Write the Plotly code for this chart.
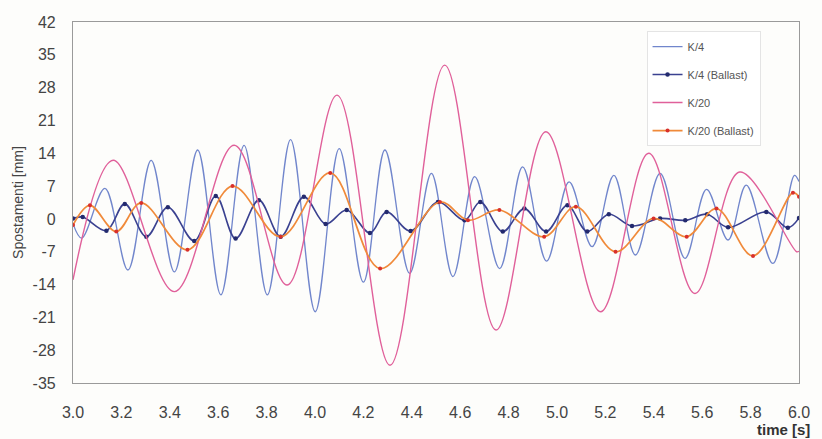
import plotly.graph_objects as go

# ---- data (time in s, displacement in mm) ----
k4_t = [3.000, 3.036, 3.132, 3.227, 3.323, 3.419, 3.515, 3.611, 3.707, 3.803,
        3.899, 4.001, 4.100, 4.200, 4.289, 4.391, 4.481, 4.570, 4.660, 4.763,
        4.858, 4.957, 5.050, 5.145, 5.235, 5.324, 5.426, 5.529, 5.618, 5.707,
        5.782, 5.892, 5.981, 6.000]
k4_v = [-1.0, -4.1, 6.5, -10.9, 12.5, -11.3, 14.7, -16.2, 15.7, -16.2,
        16.9, -19.8, 15.0, -13.5, 14.7, -11.6, 9.7, -12.3, 9.0, -10.6,
        11.1, -9.0, 7.9, -5.9, 9.3, -7.7, 9.7, -8.4, 6.3, -4.5,
        7.2, -9.5, 9.3, 8.0]

k4b_t = [3.000, 3.040, 3.138, 3.214, 3.303, 3.392, 3.501, 3.590, 3.672, 3.768,
         3.858, 3.954, 4.044, 4.131, 4.227, 4.296, 4.395, 4.508, 4.618, 4.683,
         4.776, 4.865, 4.955, 5.043, 5.125, 5.214, 5.310, 5.426, 5.530, 5.620,
         5.707, 5.865, 5.954, 6.000]
k4b_v = [0.1, 0.4, -2.5, 3.2, -3.8, 2.5, -4.7, 4.9, -4.2, 4.0,
         -3.8, 4.7, -1.1, 1.9, -3.0, 1.5, -2.6, 3.6, -0.3, 3.6,
         -2.7, 2.2, -2.7, 2.9, -2.7, 1.0, -1.5, 0.1, -0.3, 1.0,
         -1.8, 1.5, -1.9, 0.2]

k20_t = [3.000, 3.166, 3.419, 3.666, 3.885, 4.091, 4.310, 4.536, 4.748, 4.954,
         5.180, 5.379, 5.570, 5.755, 5.990, 6.000]
k20_v = [-13.0, 12.5, -15.5, 15.7, -14.1, 26.4, -31.2, 32.8, -23.7, 18.6,
         -19.8, 14.0, -15.9, 10.0, -7.0, -6.9]

k20b_t = [3.000, 3.070, 3.179, 3.282, 3.473, 3.659, 3.858, 4.063, 4.269, 4.516,
          4.632, 4.762, 4.947, 5.078, 5.242, 5.399, 5.536, 5.659, 5.810, 5.975,
          6.000]
k20b_v = [-1.3, 2.9, -2.7, 3.4, -6.6, 7.0, -3.8, 9.8, -10.6, 3.6,
          -0.3, 1.9, -3.8, 2.6, -7.0, 0.1, -3.8, 2.2, -7.9, 5.6,
          4.7]

x_ticks = [3.0, 3.2, 3.4, 3.6, 3.8, 4.0, 4.2, 4.4, 4.6, 4.8, 5.0, 5.2, 5.4, 5.6, 5.8, 6.0]
y_ticks = [-35, -28, -21, -14, -7, 0, 7, 14, 21, 28, 35, 42]

FONT = "Liberation Sans, Arial, sans-serif"

fig = go.Figure()

fig.add_trace(go.Scatter(
    x=k4_t, y=k4_v, name="K/4", mode="lines", legendgroup="a",
    line=dict(color="#7186cc", width=1.3, shape="spline", smoothing=1.0)))
fig.add_trace(go.Scatter(
    x=k4b_t, y=k4b_v, name="K/4 (Ballast)", mode="lines+markers", legendgroup="b",
    line=dict(color="#3a4190", width=1.6, shape="spline", smoothing=1.0),
    marker=dict(color="#232a6e", size=4.5)))
fig.add_trace(go.Scatter(
    x=k20_t, y=k20_v, name="K/20", mode="lines", legendgroup="c",
    line=dict(color="#e0609a", width=1.4, shape="spline", smoothing=1.0)))
fig.add_trace(go.Scatter(
    x=k20b_t, y=k20b_v, name="K/20 (Ballast)", mode="lines+markers", legendgroup="d",
    line=dict(color="#f08a3a", width=1.7, shape="spline", smoothing=1.0),
    marker=dict(color="#d8302c", size=4)))

fig.update_layout(
    width=822, height=439,
    margin=dict(l=73, r=19, t=22, b=56),
    paper_bgcolor="#fdfdfb", plot_bgcolor="#fdfdfb",
    font=dict(family=FONT, color="#444444", size=16),
    showlegend=True,
    legend=dict(
        x=0.79, y=0.975, xanchor="left", yanchor="top",
        bgcolor="#ffffff", bordercolor="#e4e4e4", borderwidth=1,
        font=dict(size=11, color="#555555", family=FONT),
        tracegroupgap=9, itemwidth=30,
        entrywidth=150, entrywidthmode="pixels",
    ),
    xaxis=dict(
        range=[3.0, 6.0], tickvals=x_ticks, ticktext=[f"{v:.1f}" for v in x_ticks],
        showgrid=False, zeroline=False, showline=True, mirror=True,
        linecolor="#9a9a9a", linewidth=1.2, ticks="", ticklabelstandoff=15,
        tickfont=dict(size=16, color="#444444"),
    ),
    yaxis=dict(
        range=[-35, 42], tickvals=y_ticks, ticktext=[str(v) for v in y_ticks],
        showgrid=False, zeroline=False, showline=True, mirror=True,
        linecolor="#9a9a9a", linewidth=1.2, ticks="", ticklabelstandoff=13,
        tickfont=dict(size=16, color="#444444"),
        title=dict(text="Spostamenti [mm]", font=dict(size=14, color="#444444"), standoff=5),
    ),
    annotations=[dict(
        text="<b>time [s]</b>", xref="paper", yref="paper", x=1.018, y=-0.13,
        xanchor="right", yanchor="middle", showarrow=False,
        font=dict(size=15, color="#333333", family=FONT))],
)

fig.write_html(
    "out.html",
    config={"displayModeBar": False},
    post_script="document.body.style.margin='0';document.body.style.overflow='hidden';",
)
